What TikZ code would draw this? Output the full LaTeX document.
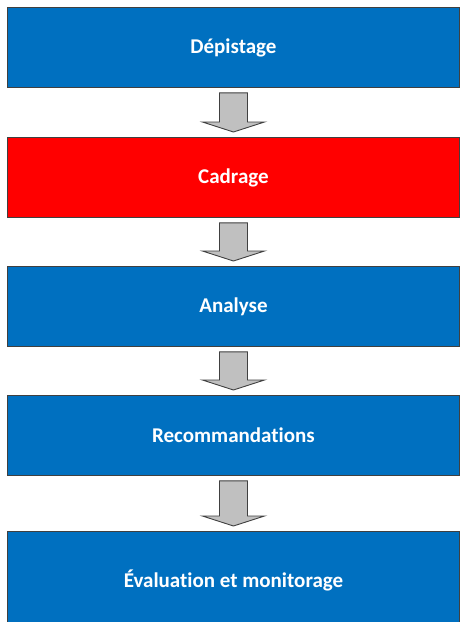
\documentclass[tikz,border=0pt]{standalone}
\usepackage{fontspec}
\setmainfont{Carlito}[Ligatures={NoCommon}]
\usetikzlibrary{calc}
\definecolor{boxblue}{RGB}{0,112,192}
\definecolor{boxred}{RGB}{255,0,0}
\definecolor{arrowgray}{RGB}{192,192,192}
\definecolor{edgegray}{RGB}{64,64,64}
\tikzset{
  stage/.style={draw=edgegray, line width=0.9pt, fill=boxblue, text=white,
    font=\bfseries\fontsize{21}{25}\selectfont, minimum width=452pt,
    minimum height=80pt, inner sep=0pt, anchor=north west},
  hot/.style={fill=boxred},
  blockarrow/.style={draw=edgegray, fill=arrowgray, line width=0.9pt, line join=miter}
}
\newcommand{\blockarr}[2]{%
  \draw[blockarrow] ($(#1.south)+(-14pt,-5pt)$) -- ($(#1.south)+(14pt,-5pt)$)
    -- ($(#2.north)+(14pt,15pt)$) -- ($(#2.north)+(31pt,15pt)$)
    -- ($(#2.north)+(0pt,5pt)$) -- ($(#2.north)+(-31pt,15pt)$)
    -- ($(#2.north)+(-14pt,15pt)$) -- cycle;}
\begin{document}
\begin{tikzpicture}[x=1pt,y=1pt]
\useasboundingbox (0,0) rectangle (461,-622);
\clip (0,0) rectangle (461,-622);
\fill[white] (0,0) rectangle (461,-622);
\node[stage] (d) at (7,-7) {Dépistage};
\node[stage,hot] (c) at (7,-137) {Cadrage};
\node[stage] (a) at (7,-266) {Analyse};
\node[stage] (r) at (7,-395) {Recommandations};
\node[stage, minimum height=98pt] (e) at (7,-531) {Évaluation et monitorage};
\blockarr{d}{c}
\blockarr{c}{a}
\blockarr{a}{r}
\blockarr{r}{e}
\end{tikzpicture}
\end{document}
